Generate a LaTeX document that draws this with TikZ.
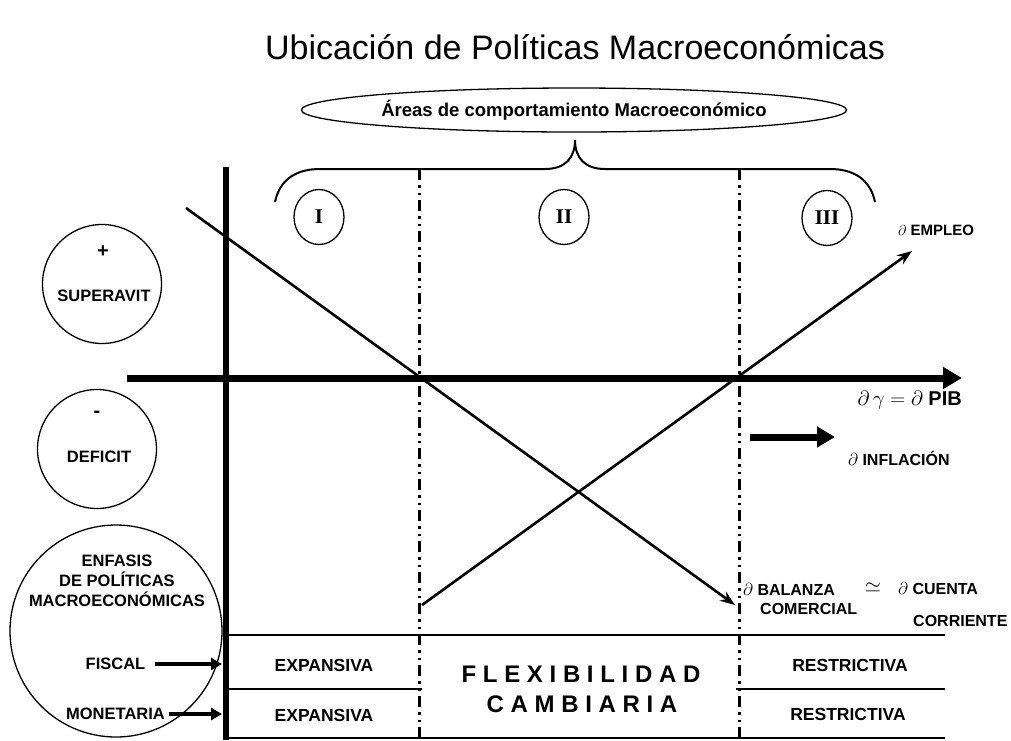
\documentclass[tikz,border=0pt]{standalone}
\usepackage{fontspec}
\setmainfont{Liberation Sans}
\newfontfamily\romfont{Liberation Serif}
\usetikzlibrary{arrows.meta,shapes.geometric,positioning}
\tikzset{
    lab/.style = {inner sep=0pt, font=\fontsize{16.5}{18}\selectfont\bfseries},
    sidecirc/.style = {circle, draw, line width=1.3pt, minimum size=119pt, inner sep=0pt},
    zonecirc/.style = {ellipse, draw, line width=1.3pt, minimum width=50pt, minimum height=55pt, inner sep=0pt, font=\fontsize{21}{21}\selectfont\romfont\bfseries},
    divider/.style = {line width=3pt, dash pattern=on 11pt off 5pt on 2.5pt off 5pt on 2.5pt off 5pt},
    trend/.style = {line width=2.6pt, -{Stealth[length=15pt,width=11pt]}},
    rule/.style = {line width=1.5pt},
    fatarrow/.style = {line width=7pt, -{Triangle[length=19pt,width=21pt]}},
    policyarrow/.style = {line width=3.5pt, -{Triangle[length=11pt,width=12pt]}}
}
\begin{document}
\begin{tikzpicture}[x=1pt,y=-1pt]
\useasboundingbox (0,0) rectangle (1011,740);

% title and areas
\node (title) at (575,47) {\fontsize{34}{36}\selectfont Ubicación de Políticas Macroeconómicas};
\node (areas) [ellipse, draw, line width=1.3pt, minimum width=490pt, minimum height=44pt, inner sep=0pt, font=\fontsize{18.5}{20}\selectfont\bfseries] at (574,110) {Áreas de comportamiento Macroeconómico};
\draw [line width=2pt] (275,202) .. controls (280,178) and (298,169) .. (320,169) -- (545,169)
    .. controls (565,169) and (575,158) .. (575,140)
    .. controls (575,158) and (585,169) .. (605,169) -- (830,169)
    .. controls (852,169) and (870,178) .. (875,202);

% zones
\node (zI) [zonecirc] at (319,217) {I};
\node (zII) [zonecirc] at (564,217) {II};
\node (zIII) [zonecirc] at (827,218) {III};
\draw [divider] (419,169) -- (419,740);
\draw [divider] (739,169) -- (739,740);

% axes
\coordinate (xo) at (127,378);
\coordinate (xe) at (962,378);
\draw [line width=6pt] (226,167) -- (226,740);
\draw [fatarrow] (xo) -- (xe);
\node (pib) [anchor=east, inner sep=0pt] at (962,400) {\fontsize{20}{20}\selectfont$\partial\,\gamma=\partial$ \textbf{PIB}};

% superavit / deficit
\node (sup) [sidecirc] at (102,284) {};
\node (plus) [lab, font=\fontsize{20}{20}\selectfont\bfseries] at (103,252) {+};
\node (suptxt) [lab] at (104,296) {SUPERAVIT};
\node (def) [sidecirc] at (97,449) {};
\node (minus) [lab, font=\fontsize{20}{20}\selectfont\bfseries] at (97,414) {-};
\node (deftxt) [lab] at (99,457) {DEFICIT};

% trends
\coordinate (balS) at (186,208);
\coordinate (balE) at (735,605);
\coordinate (empS) at (422,605);
\coordinate (empE) at (912,251);
\draw [trend] (balS) -- (balE);
\draw [trend] (empS) -- (empE);
\node (empleo) [lab, anchor=west, font=\fontsize{15}{16}\selectfont\bfseries] at (898,230) {$\partial$ EMPLEO};

\coordinate (infS) at (750,437);
\coordinate (infE) at (835,437);
\draw [fatarrow, -{Triangle[length=18pt,width=20pt]}] (infS) -- (infE);
\node (infl) [lab, anchor=west, font=\fontsize{16}{16}\selectfont\bfseries] at (848,458) {$\partial$ INFLACIÓN};

\node (bal) [lab, anchor=west, font=\fontsize{16}{16}\selectfont\bfseries] at (743,589) {$\partial$ BALANZA};
\node (com) [lab, anchor=west, font=\fontsize{16}{16}\selectfont\bfseries] at (760,609) {COMERCIAL};
\node (approx) [inner sep=0pt] at (873,588) {\fontsize{22}{22}\selectfont$\simeq$};
\node (cta) [lab, anchor=west, font=\fontsize{16}{16}\selectfont\bfseries] at (898,589) {$\partial$ CUENTA};
\node (corr) [lab, anchor=west, font=\fontsize{16}{16}\selectfont\bfseries] at (913,621) {CORRIENTE};

% policy emphasis
\node (enf) [circle, draw, line width=1.3pt, minimum size=212pt, inner sep=0pt] at (116,631) {};
\node (enftxt) [lab, align=center] at (117,581) {ENFASIS\\[2pt]DE POLÍTICAS\\[2pt]MACROECONÓMICAS};
\node (fis) [lab] at (115.5,664) {FISCAL};
\node (mon) [lab] at (115.5,714) {MONETARIA};
\coordinate (fisE) at (222,664);
\coordinate (monE) at (222,714);
\draw [policyarrow] (fis.east) ++(10,0) -- (fisE);
\draw [policyarrow] (mon.east) ++(4,0) -- (monE);

\draw [rule] (226,635) -- (945,635);
\draw [rule] (226,689) -- (422,689);
\draw [rule] (736,689) -- (945,689);
\draw [line width=2.5pt] (226,738) -- (945,738);

\node (expF) [lab, font=\fontsize{17.5}{18}\selectfont\bfseries] at (324,665) {EXPANSIVA};
\node (expM) [lab, font=\fontsize{17.5}{18}\selectfont\bfseries] at (324,715) {EXPANSIVA};
\node (resF) [lab, font=\fontsize{17.5}{18}\selectfont\bfseries] at (850,665) {RESTRICTIVA};
\node (resM) [lab, font=\fontsize{17.5}{18}\selectfont\bfseries] at (848,714) {RESTRICTIVA};
\node (flex) [lab, font=\fontsize{24}{24}\selectfont\bfseries] at (581,674) {F L E X I B I L I D A D};
\node (camb) [lab, font=\fontsize{24}{24}\selectfont\bfseries] at (582,704) {C A M B I A R I A};
\end{tikzpicture}
\end{document}
